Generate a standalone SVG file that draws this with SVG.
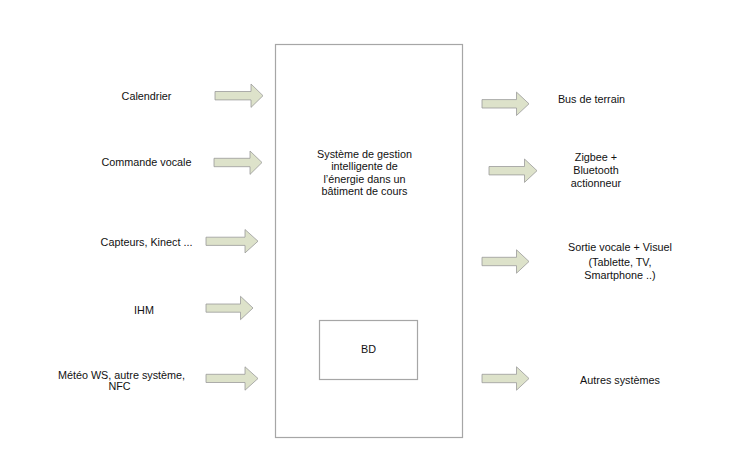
<svg xmlns="http://www.w3.org/2000/svg" width="743" height="474" viewBox="0 0 743 474">
<style>
  .box{fill:#ffffff;stroke:#a6a6a6;stroke-width:1.2}
  .arr{fill:#dde2ca;stroke:#9a9a9a;stroke-width:0.8;stroke-linejoin:miter}
  text{font-family:"Liberation Sans",Arial,sans-serif;font-size:10.8px;fill:#111;text-anchor:middle}
</style>
<rect width="743" height="474" fill="#ffffff"/>
<g id="main">
  <rect class="box" x="275.5" y="44.5" width="187" height="393"/>
  <text x="364.5" y="158">Système de gestion</text>
  <text x="364.5" y="170">intelligente de</text>
  <text x="364.5" y="182.5">l’énergie dans un</text>
  <text x="364.5" y="195">bâtiment de cours</text>
</g>
<g id="bd">
  <rect class="box" x="319.5" y="320.5" width="98" height="59"/>
  <text x="368.5" y="353">BD</text>
</g>
<g id="in-calendrier"><text x="146.5" y="99.5">Calendrier</text></g>
<g id="in-commande"><text x="146.5" y="165.5">Commande vocale</text></g>
<g id="in-capteurs"><text x="146.5" y="245.5">Capteurs, Kinect ...</text></g>
<g id="in-ihm"><text x="144" y="314">IHM</text></g>
<g id="in-meteo">
  <text x="121.5" y="378.5">Météo WS, autre système,</text>
  <text x="119.5" y="390">NFC</text>
</g>
<g id="out-bus"><text x="591.5" y="103">Bus de terrain</text></g>
<g id="out-zigbee">
  <text x="596" y="161">Zigbee +</text>
  <text x="596" y="174">Bluetooth</text>
  <text x="596" y="186.5">actionneur</text>
</g>
<g id="out-sortie">
  <text x="620" y="251">Sortie vocale + Visuel</text>
  <text x="620" y="266">(Tablette, TV,</text>
  <text x="620" y="279">Smartphone ..)</text>
</g>
<g id="out-autres"><text x="620" y="384">Autres systèmes</text></g>
<g id="connectors">
  <polygon class="arr" points="215,91.5 251,91.5 251,84 263,95.7 251,107.4 251,99.9 215,99.9"/>
  <polygon class="arr" points="214,158.3 250,158.3 250,151 262,162.5 250,174.4 250,166.7 214,166.7"/>
  <polygon class="arr" points="206,237.2 245,237.2 245,229.5 258,241.2 245,252.9 245,245.4 206,245.4"/>
  <polygon class="arr" points="206,304 240.5,304 240.5,296.3 253,308 240.5,319.7 240.5,312.2 206,312.2"/>
  <polygon class="arr" points="206,374.3 245,374.3 245,366.8 258,378.5 245,390.2 245,382.5 206,382.5"/>
  <polygon class="arr" points="482,99.6 516.5,99.6 516.5,92.1 529,103.8 516.5,115.5 516.5,108 482,108"/>
  <polygon class="arr" points="489,166.5 524.5,166.5 524.5,159 537,170.7 524.5,182.4 524.5,174.9 489,174.9"/>
  <polygon class="arr" points="482,257.3 516.5,257.3 516.5,249.8 529,261.5 516.5,273.2 516.5,265.7 482,265.7"/>
  <polygon class="arr" points="482,374.3 516.5,374.3 516.5,366.8 529,378.5 516.5,390.2 516.5,382.7 482,382.7"/>
</g>
</svg>
